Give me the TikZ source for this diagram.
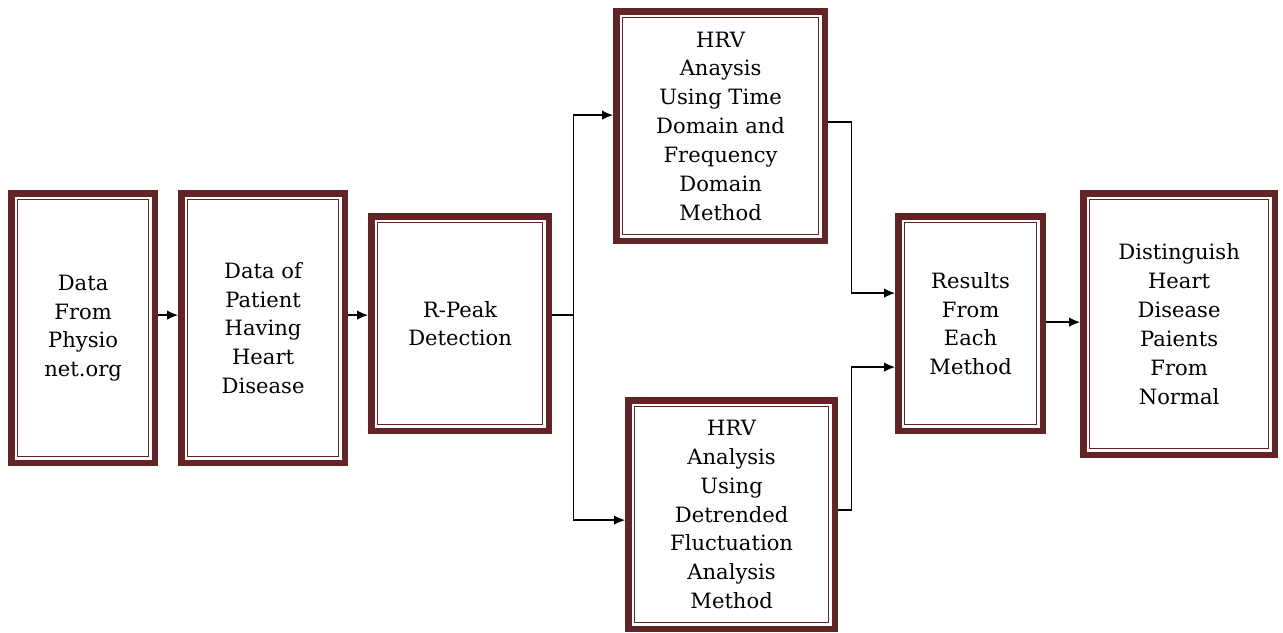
\documentclass[tikz,border=0pt]{standalone}
\usepackage{fontspec}
\setmainfont{DejaVu Serif}
\usetikzlibrary{arrows.meta}
\usepackage{xcolor}
\definecolor{framec}{RGB}{98,36,38}
\tikzset{
  stage/.style={draw=framec, line width=3.8pt, outer sep=1.9pt, fill=white, align=center, inner sep=2pt, anchor=north west, font=\fontsize{12}{16.4}\selectfont},
  innerframe/.style={draw=framec, line width=0.8pt},
  flow/.style={-{Latex[length=2.2mm,width=1.9mm]}, line width=0.7pt, black},
  link/.style={line width=0.7pt, black}
}
\begin{document}
\begin{tikzpicture}
  \useasboundingbox (0,0) rectangle (25.66,-12.64);

  \node[stage, minimum width=2.87cm, minimum height=5.39cm] (b1) at (0.16,-3.80) {Data\\From\\Physio\\net.org};
  \node[stage, minimum width=3.27cm, minimum height=5.39cm] (b2) at (3.56,-3.80) {Data of\\Patient\\Having\\Heart\\Disease};
  \node[stage, minimum width=3.55cm, minimum height=4.29cm] (b3) at (7.36,-4.26) {R-Peak\\Detection};
  \node[stage, minimum width=4.17cm, minimum height=4.59cm] (b4) at (12.26,-0.16) {HRV\\Anaysis\\Using Time\\Domain and\\Frequency\\Domain\\Method};
  \node[stage, minimum width=4.13cm, minimum height=4.57cm] (b5) at (12.50,-7.94) {HRV\\Analysis\\Using\\Detrended\\Fluctuation\\Analysis\\Method};
  \node[stage, minimum width=2.89cm, minimum height=4.29cm] (b6) at (17.90,-4.26) {Results\\From\\Each\\Method};
  \node[stage, minimum width=3.83cm, minimum height=5.23cm] (b7) at (21.60,-3.80) {Distinguish\\Heart\\Disease\\Paients\\From\\Normal};

  % thin inner frame of every box
  \foreach \n in {b1,b2,b3,b4,b5,b6,b7}
    \draw[innerframe] ([shift={(0.19,-0.19)}]\n.north west) rectangle ([shift={(-0.19,0.19)}]\n.south east);

  \draw[flow] ([yshift=2.6mm]b1.east) -- ([yshift=2.6mm]b2.west);
  \draw[flow] ([yshift=2.6mm]b2.east) -- ([yshift=2.6mm]b2.east -| b3.west);

  \draw[link] ([yshift=1.7mm]b3.east) -- ++(0.42,0) coordinate (split);
  \draw[flow] (split) |- ([yshift=2.2mm]b4.west);
  \draw[flow] (split) |- ([yshift=-1.1mm]b5.west);

  \draw[flow] ([yshift=0.8mm]b4.east) -- ++(0.46,0) |- ([yshift=6.1mm]b6.west);
  \draw[flow] ([yshift=0.9mm]b5.east) -- ++(0.26,0) |- ([yshift=-8.7mm]b6.west);

  \draw[flow] ([yshift=0.3mm]b6.east) -- ([yshift=0.3mm]b6.east -| b7.west);
\end{tikzpicture}
\end{document}
